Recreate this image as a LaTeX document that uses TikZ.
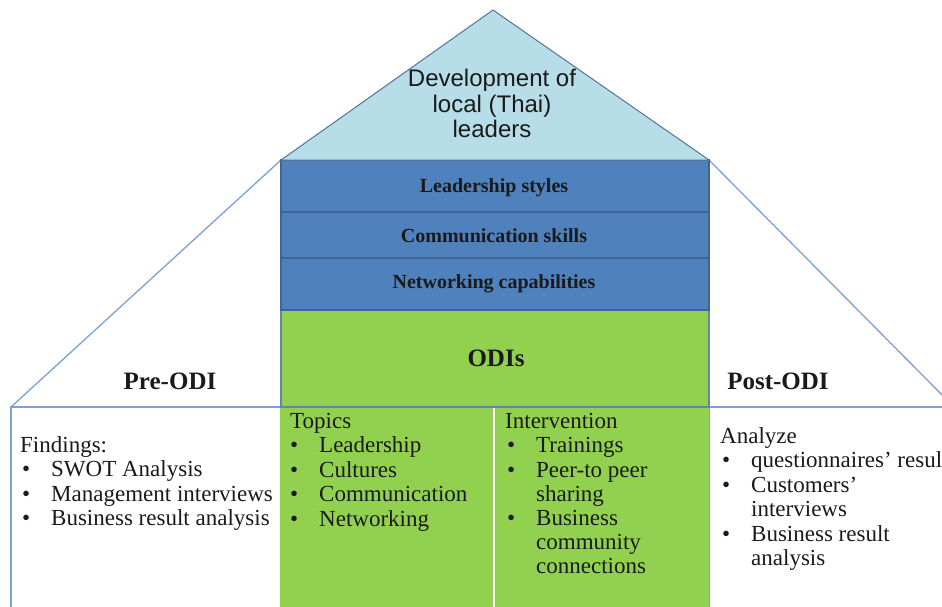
\documentclass[tikz,border=0pt]{standalone}
\usepackage{fontspec}
\setmainfont{Liberation Serif}
\newfontfamily\arialf{Liberation Sans}
\definecolor{lblue}{HTML}{B7DDE8}
\definecolor{mblue}{HTML}{4F81BD}
\definecolor{dblue}{HTML}{3F6593}
\definecolor{lgreen}{HTML}{92D050}
\definecolor{edgec}{HTML}{7EA1D0}
\definecolor{ink}{HTML}{1A1A1A}
\newcommand\bitem[4]{%
  \node[body] (#1b) at (#2,#3) {\textbullet};
  \node[body] (#1) at ({#2+29},#3) {#4};}
\begin{document}
\begin{tikzpicture}[x=1pt,y=-1pt,
  bar/.style={fill=mblue,draw=dblue,line width=1.2pt},
  lbl/.style={font=\fontsize{20}{24}\selectfont\bfseries,text=ink,inner sep=0,anchor=base},
  head/.style={font=\fontsize{25}{28}\selectfont\bfseries,text=ink,inner sep=0,anchor=base},
  body/.style={font=\fontsize{23}{24.5}\selectfont,text=ink,inner sep=0,anchor=base west},
  roof/.style={draw=edgec,line width=1.3pt},
  side/.style={draw=edgec,line width=1.8pt}]
\useasboundingbox (0,0) rectangle (942,607);
% named coordinates
\coordinate (apex) at (493,10);
\coordinate (tl) at (281,160);
\coordinate (tr) at (709,160);
\coordinate (lc) at (11,407);
\coordinate (rc) at (954,407);
% roof lines
\draw[roof] (tl) -- (lc);
\draw[roof] (tr) -- (rc);
% side boxes
\draw[side] (11,625) -- (lc) -- (rc);
\draw[side] (709,407) -- (709,625);
% green columns
\fill[lgreen] (280,407) rectangle (493,625);
\fill[lgreen] (494,407) rectangle (709,625);
\draw[white,line width=2pt] (493.5,408) -- (493.5,625);
% ODIs box
\draw[fill=lgreen,draw=dblue!80,line width=1.5pt] (281,310) rectangle (709,407);
% blue bars
\draw[bar] (281,160) rectangle (709,212);
\draw[bar] (281,212) rectangle (709,258);
\draw[bar] (281,258) rectangle (709,310);
% triangle
\draw[fill=lblue,draw=dblue!90,line width=1pt,line join=miter] (tl) -- (apex) -- (tr) -- cycle;
% triangle text
\node[font=\arialf\fontsize{24}{25.5}\selectfont,text=ink,inner sep=0,anchor=base] (t1) at (492,87) {Development of};
\node[font=\arialf\fontsize{24}{25.5}\selectfont,text=ink,inner sep=0,anchor=base] (t2) at (492,113) {local (Thai)};
\node[font=\arialf\fontsize{24}{25.5}\selectfont,text=ink,inner sep=0,anchor=base] (t3) at (492,138) {leaders};
% bar labels
\node[lbl] (ls) at (494,192) {Leadership styles};
\node[lbl] (cs) at (494,242) {Communication skills};
\node[lbl] (nc) at (494,288) {Networking capabilities};
\node[head] (odi) at (496,366) {ODIs};
\node[head] (pre) at (170,389) {Pre-ODI};
\node[head] (post) at (778,389) {Post-ODI};
% Pre-ODI list
\node[body] (fnd) at (20,452) {Findings:};
\bitem{p1}{22}{476.5}{SWOT Analysis}
\bitem{p2}{22}{501}{Management interviews}
\bitem{p3}{22}{525.5}{Business result analysis}
% Topics
\node[body] (top) at (290,428) {Topics};
\bitem{a1}{290}{452.5}{Leadership}
\bitem{a2}{290}{477}{Cultures}
\bitem{a3}{290}{501.5}{Communication}
\bitem{a4}{290}{526}{Networking}
% Intervention
\node[body] (int) at (505,428) {Intervention};
\bitem{b1}{507}{452.5}{Trainings}
\bitem{b2}{507}{477}{Peer-to peer}
\node[body] (b2x) at (536,501) {sharing};
\bitem{b3}{507}{525.5}{Business}
\node[body] (b3x) at (536,549.5) {community};
\node[body] (b3y) at (536,573.5) {connections};
% Post-ODI
\node[body] (ana) at (720,443) {Analyze};
\bitem{c1}{722}{467.5}{questionnaires’ result}
\bitem{c2}{722}{492}{Customers’}
\node[body] (c2x) at (751,516.5) {interviews};
\bitem{c3}{722}{541}{Business result}
\node[body] (c3x) at (751,565.5) {analysis};
\end{tikzpicture}
\end{document}
